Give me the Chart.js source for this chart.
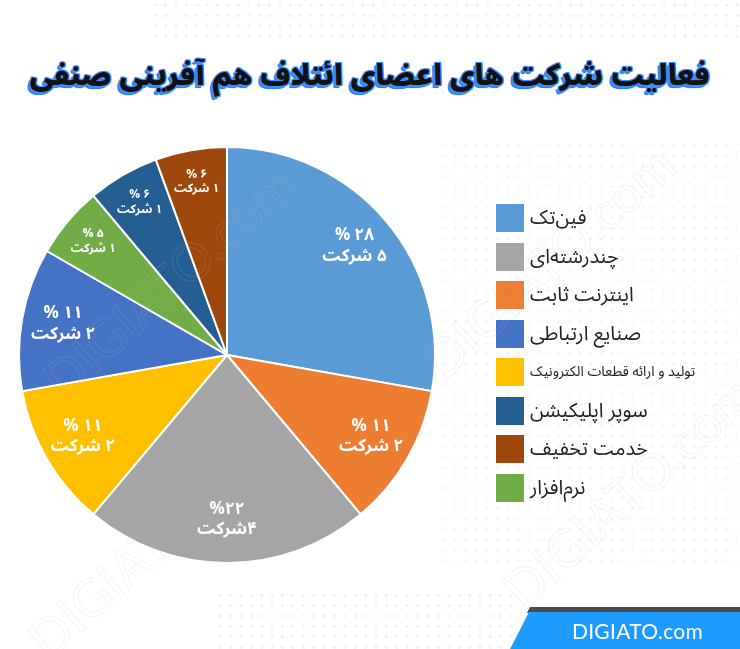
<!DOCTYPE html>
<html lang="fa">
<head>
<meta charset="utf-8">
<script src="https://cdn.jsdelivr.net/npm/chart.js@4.4.1/dist/chart.umd.min.js"></script>
<style>
  html, body { margin: 0; padding: 0; background: #fff; }
  #wrap { position: relative; width: 740px; height: 649px; overflow: hidden; background: #fff;
          font-family: 'Noto Sans Arabic', 'DejaVu Sans', sans-serif; }
  .dots { position: absolute; background-image: radial-gradient(circle, #f0f0f0 1.3px, transparent 1.7px);
          background-size: 10.4px 10.4px; }
  #title { position: absolute; left: 0; top: 56px; width: 740px; margin: 0; text-align: center;
           direction: rtl; font-size: 29px; line-height: 40px; font-weight: 900; color: #111; white-space: nowrap;
           text-shadow: -1px 1px 0 #3b8dff, 1px 1px 0 #3b8dff, -1px -1px 0 #3b8dff, 1px -1px 0 #3b8dff,
                        -2px 2px 0 #3b8dff, -3px 3px 0 #2f7fe8, -2px 3px 1px #2f7fe8; }
  canvas { position: absolute; left: 0; top: 0; }
  .lg-box { position: absolute; left: 496px; width: 28px; height: 28px; }
  .lg-text { position: absolute; left: 530px; height: 28px; line-height: 28px; direction: rtl;
             white-space: nowrap; color: #222; font-size: 20px; }
  .wm { position: absolute; font-family: 'Lato', sans-serif; font-size: 52px; font-weight: 400;
        color: transparent; -webkit-text-stroke: 1px rgba(190,190,190,0.18); transform: rotate(-42deg);
        white-space: nowrap; pointer-events: none; }
  #footline { position: absolute; left: 530px; top: 607px; width: 230px; height: 6px; background: #4a4a4a;
              transform: skewX(-27deg); transform-origin: top left; }
  #footbox { position: absolute; left: 529px; top: 612px; width: 240px; height: 37px; background: #1e9bff;
             transform: skewX(-27deg); transform-origin: top left; }
  #foottext { position: absolute; left: 560px; top: 612px; width: 155px; height: 37px; line-height: 37px;
              text-align: center; color: #fff; font-family: 'Lato', sans-serif; font-size: 21px; letter-spacing: 0.3px; }
</style>
</head>
<body>
<div id="wrap">
  <div class="dots" style="left:150px;top:0;width:590px;height:42px;"></div>
  <div class="dots" style="left:440px;top:140px;width:300px;height:430px;opacity:0.7;"></div>
  <div class="dots" style="left:215px;top:590px;width:300px;height:59px;"></div>
  <h1 id="title">فعالیت شرکت های اعضای ائتلاف هم آفرینی صنفی</h1>
  <canvas id="chart" width="740" height="649"></canvas>
  <div id="legend"></div>
  <div class="wm" style="left:10px;top:250px;">DIGIATO.com</div>
  <div class="wm" style="left:-5px;top:510px;">DIGIATO.com</div>
  <div class="wm" style="left:470px;top:460px;">DIGIATO.com</div>
  <div class="wm" style="left:390px;top:230px;">DIGIATO.com</div>
  <div id="footline"></div>
  <div id="footbox"></div>
  <div id="foottext">DIGIATO.com</div>
</div>
<script>
// pie data (clockwise from 12 o'clock)
const categories = ['فین‌تک', 'اینترنت ثابت', 'چندرشته‌ای', 'تولید و ارائه قطعات الکترونیک',
                    'صنایع ارتباطی', 'نرم‌افزار', 'سوپر اپلیکیشن', 'خدمت تخفیف'];
const companies = [5, 2, 4, 2, 2, 1, 1, 1];
const percentLabels = ['۲۸ %', '۱۱ %', '%۲۲', '۱۱ %', '۱۱ %', '۵ %', '۶ %', '۶ %'];
const countLabels = ['۵ شرکت', '۲ شرکت', '۴شرکت', '۲ شرکت', '۲ شرکت', '۱ شرکت', '۱ شرکت', '۱ شرکت'];
const sliceColors = ['#5b9bd5', '#ed7d31', '#a5a5a5', '#ffc000', '#4472c4', '#70ad47', '#255e91', '#9e480e'];
// legend order as in the picture
const legendOrder = [0, 2, 1, 4, 3, 6, 7, 5];

const fontFamily = "'Noto Sans Arabic', 'DejaVu Sans', sans-serif";

const sliceLabels = {
    id: 'sliceLabels',
    afterDatasetsDraw(chart) {
        const ctx = chart.ctx;
        chart.getDatasetMeta(0).data.forEach((arc, i) => {
            const p = arc.getProps(['x', 'y', 'startAngle', 'endAngle', 'outerRadius'], true);
            const mid = (p.startAngle + p.endAngle) / 2;
            const r = p.outerRadius * (companies[i] > 1 ? 0.8 : 0.84);
            const size = companies[i] > 1 ? 17 : 12;
            const lx = p.x + Math.cos(mid) * r;
            const ly = p.y + Math.sin(mid) * r;
            ctx.save();
            ctx.direction = 'rtl';
            ctx.textAlign = 'center';
            ctx.textBaseline = 'middle';
            ctx.fillStyle = '#fff';
            ctx.font = 'bold ' + size + 'px ' + fontFamily;
            ctx.fillText(percentLabels[i], lx, ly - size * 0.6);
            ctx.fillText(countLabels[i], lx, ly + size * 0.6);
            ctx.restore();
        });
    }
};

new Chart(document.getElementById('chart'), {
    type: 'pie',
    data: {
        labels: categories,
        datasets: [{
            data: companies,
            backgroundColor: sliceColors,
            borderColor: '#fff',
            borderWidth: 2,
            hoverOffset: 0
        }]
    },
    options: {
        responsive: false,
        animation: false,
        layout: { padding: { left: 18, top: 146, right: 304, bottom: 85 } },
        plugins: {
            legend: { display: false },
            tooltip: { enabled: false }
        }
    },
    plugins: [sliceLabels]
});

// legend
const legend = document.getElementById('legend');
legendOrder.forEach((idx, row) => {
    const top = 204 + row * 38.5;
    const box = document.createElement('div');
    box.className = 'lg-box';
    box.style.top = top + 'px';
    box.style.background = sliceColors[idx];
    legend.appendChild(box);
    const txt = document.createElement('div');
    txt.className = 'lg-text';
    txt.style.top = top + 'px';
    if (categories[idx].length > 20) txt.style.fontSize = '14px';
    txt.textContent = categories[idx];
    legend.appendChild(txt);
});
</script>
</body>
</html>
